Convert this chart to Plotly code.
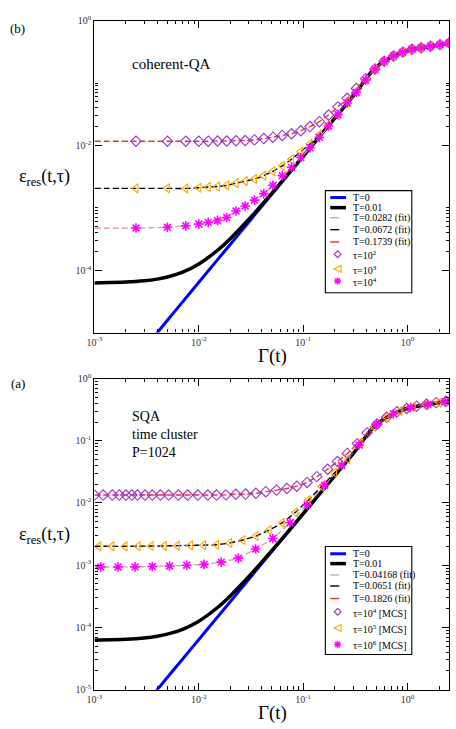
import plotly.graph_objects as go

W, H = 456, 729
FONT = "Liberation Serif"

# ---------------- data ----------------
# exact curves (same in both panels)
blue_gamma = [0.0035, 0.004, 0.005, 0.007, 0.01, 0.015, 0.02, 0.03, 0.05, 0.07, 0.1, 0.15, 0.2,
              0.238, 0.28, 0.316, 0.35, 0.391, 0.43, 0.474, 0.53, 0.59, 0.65, 0.721, 0.8, 0.897,
              1.0, 1.107, 1.355, 1.683, 2.046, 2.5]
blue_eres = [7.7e-6, 1.0e-5, 1.58e-5, 3.11e-5, 6.4e-5, 1.45e-4, 2.59e-4, 5.89e-4, 1.65e-3, 3.26e-3,
             6.70e-3, 0.0152, 0.0272, 0.0387, 0.0536, 0.0692, 0.087, 0.112, 0.138, 0.166, 0.195,
             0.221, 0.244, 0.268, 0.290, 0.314, 0.333, 0.348, 0.369, 0.391, 0.414, 0.439]

black_gamma = [0.001, 0.002, 0.003, 0.004, 0.005, 0.007, 0.01, 0.015, 0.02, 0.03, 0.05, 0.07, 0.1,
               0.15, 0.2, 0.238, 0.28, 0.316, 0.35, 0.391, 0.43, 0.474, 0.53, 0.59, 0.65, 0.721,
               0.8, 0.897, 1.0, 1.107, 1.355, 1.683, 2.046, 2.5]
black_eres = [6.26e-5, 6.45e-5, 6.76e-5, 7.2e-5, 7.78e-5, 9.31e-5, 1.26e-4, 2.07e-4, 3.21e-4,
              6.51e-4, 1.71e-3, 3.32e-3, 6.76e-3, 0.0153, 0.0273, 0.0387, 0.0536, 0.0692, 0.087,
              0.112, 0.138, 0.166, 0.195, 0.221, 0.244, 0.268, 0.290, 0.314, 0.333, 0.348, 0.369,
              0.391, 0.414, 0.439]

# panel (b): coherent-QA
top_gamma = [0.0025, 0.005, 0.0075, 0.01, 0.0123, 0.0151, 0.0185, 0.0227, 0.0278, 0.0341, 0.0419,
             0.0513, 0.063, 0.0773, 0.0948, 0.116, 0.143, 0.175, 0.215, 0.264, 0.323, 0.397,
             0.487, 0.597, 0.733, 0.899, 1.10, 1.35, 1.66, 2.04, 2.5]
top_tau1e2 = [0.0117, 0.0117, 0.0117, 0.0117, 0.0117, 0.0118, 0.0118, 0.0119, 0.0120, 0.0123,
              0.0129, 0.0136, 0.0145, 0.0154, 0.0172, 0.0201, 0.0241, 0.0308, 0.0416, 0.057,
              0.0819, 0.118, 0.169, 0.224, 0.272, 0.314, 0.348, 0.368, 0.391, 0.414, 0.439]
top_tau1e3 = [0.00205, 0.00205, 0.00205, 0.0021, 0.00216, 0.0022, 0.00229, 0.00249, 0.00268,
              0.0029, 0.00329, 0.00386, 0.00472, 0.00602, 0.00796, 0.0106, 0.0149, 0.0214,
              0.0308, 0.0493, 0.0722, 0.112, 0.166, 0.224, 0.272, 0.314, 0.348, 0.368, 0.391,
              0.414, 0.439]
top_tau1e4 = [4.75e-4, 4.88e-4, 5.17e-4, 5.5e-4, 5.85e-4, 6.29e-4, 7.01e-4, 8.91e-4, 1.07e-3,
              1.33e-3, 1.69e-3, 2.29e-3, 3.29e-3, 4.46e-3, 6.4e-3, 9.2e-3, 0.0135, 0.0205,
              0.0312, 0.048, 0.0715, 0.112, 0.166, 0.224, 0.272, 0.314, 0.348, 0.368, 0.391,
              0.414, 0.439]
top_fit_start = 0.001
top_fit_plateaus = [4.7e-4, 0.00205, 0.0117]   # T=0.0282, 0.0672, 0.1739

# panel (a): SQA
bot_d_gamma = [0.001, 0.00121, 0.00148, 0.00173, 0.002, 0.00228, 0.00258, 0.00305, 0.00358,
               0.00428, 0.00513, 0.00636, 0.00781, 0.00978, 0.0122, 0.0148, 0.0182, 0.0226,
               0.028, 0.0352, 0.0438, 0.0554, 0.0698, 0.0868, 0.109, 0.135, 0.171, 0.213,
               0.265, 0.33, 0.41, 0.51, 0.63, 0.79, 0.98, 1.22, 1.51, 1.88, 2.33]
bot_tau1e4 = [0.0134, 0.0134, 0.0134, 0.0134, 0.0134, 0.0134, 0.0134, 0.0134, 0.0134, 0.0134,
              0.0134, 0.0134, 0.0134, 0.0134, 0.0134, 0.0134, 0.0135, 0.0138, 0.0139, 0.0143,
              0.0152, 0.0161, 0.0171, 0.0186, 0.0214, 0.0265, 0.0348, 0.0465, 0.0626, 0.090,
              0.134, 0.186, 0.238, 0.292, 0.33, 0.36, 0.385, 0.41, 0.432]
bot_t_gamma = [0.0011, 0.00147, 0.00196, 0.00262, 0.00349, 0.00467, 0.00622, 0.00832, 0.0111,
               0.0148, 0.0198, 0.0264, 0.0352, 0.0471, 0.0628, 0.0839, 0.112, 0.150, 0.200,
               0.267, 0.356, 0.475, 0.634, 0.847, 1.13, 1.51, 2.01]
bot_tau1e5 = [0.00201, 0.00201, 0.00201, 0.00202, 0.00203, 0.00204, 0.00206, 0.00208, 0.0021,
              0.00213, 0.00228, 0.00254, 0.00294, 0.00366, 0.0048, 0.00703, 0.0111, 0.0184,
              0.0306, 0.0506, 0.091, 0.167, 0.238, 0.302, 0.352, 0.381, 0.411]
bot_s_gamma = [0.00115, 0.00168, 0.00245, 0.00358, 0.00524, 0.00766, 0.0112, 0.0164, 0.0239,
               0.035, 0.0512, 0.0748, 0.109, 0.160, 0.234, 0.342, 0.500, 0.731, 1.07, 1.56, 2.29]
bot_tau1e6 = [9.37e-4, 9.37e-4, 9.4e-4, 9.5e-4, 9.7e-4, 1.0e-3, 1.03e-3, 1.12e-3, 1.30e-3,
              1.82e-3, 2.69e-3, 4.8e-3, 9.33e-3, 0.0193, 0.040, 0.085, 0.180, 0.272, 0.343,
              0.385, 0.425]
bot_fit_start = 0.001
bot_fit_plateaus = [9.37e-4, 0.00201, 0.0134]   # T=0.04168, 0.0651, 0.1826

# tick labels
x_tickvals = [1e-3, 1e-2, 1e-1, 1.0]
x_ticktext = ["10<sup>-3</sup>", "10<sup>-2</sup>", "10<sup>-1</sup>", "10<sup>0</sup>"]
top_y_tickvals = [1.0, 1e-2, 1e-4]
top_y_ticktext = ["10<sup>0</sup>", "10<sup>-2</sup>", "10<sup>-4</sup>"]
bot_y_tickvals = [1.0, 1e-1, 1e-2, 1e-3, 1e-4, 1e-5]
bot_y_ticktext = ["10<sup>0</sup>", "10<sup>-1</sup>", "10<sup>-2</sup>", "10<sup>-3</sup>",
                  "10<sup>-4</sup>", "10<sup>-5</sup>"]

top_legend = ["T=0", "T=0.01", "T=0.0282 (fit)", "T=0.0672 (fit)", "T=0.1739 (fit)",
              "τ=10<sup>2</sup>", "τ=10<sup>3</sup>", "τ=10<sup>4</sup>"]
bot_legend = ["T=0", "T=0.01", "T=0.04168 (fit)", "T=0.0651 (fit)", "T=0.1826 (fit)",
              "τ=10<sup>4</sup> [MCS]", "τ=10<sup>5</sup> [MCS]", "τ=10<sup>6</sup> [MCS]"]

# ---------------- styles ----------------
C_BLUE, C_BLACK = "#0000ff", "#000000"
C_FIT = ["#dba3a3", "#000000", "#f03030"]
C_DIA, C_TRI, C_STAR = "#9932cc", "#ffa500", "#ff00ff"


def px_x(p):
    return p / W


def px_y(p):
    return 1 - p / H


fig = go.Figure()


def add_panel(xa, ya, fit_start, plateaus, series):
    # series: list of (gamma, values, symbol, color), in fit-colour order
    fig.add_trace(go.Scatter(x=blue_gamma, y=blue_eres, mode="lines", xaxis=xa, yaxis=ya,
                             line=dict(color=C_BLUE, width=3, shape="spline", smoothing=0.6),
                             showlegend=False, hoverinfo="skip"))
    fig.add_trace(go.Scatter(x=black_gamma, y=black_eres, mode="lines", xaxis=xa, yaxis=ya,
                             line=dict(color=C_BLACK, width=3.5, shape="spline", smoothing=0.6),
                             showlegend=False, hoverinfo="skip"))
    for (g, v, sym, col), pl, fc in zip(series, plateaus, C_FIT):
        fx = [fit_start] + list(g) if g[0] > fit_start else list(g)
        fy = [pl] + list(v) if g[0] > fit_start else list(v)
        fig.add_trace(go.Scatter(x=fx, y=fy, mode="lines", xaxis=xa, yaxis=ya,
                                 line=dict(color=fc, width=1.4, dash="6px,3px", shape="spline",
                                           smoothing=0.5),
                                 showlegend=False, hoverinfo="skip"))
    for g, v, sym, col in series[::-1]:
        lw = 1.6 if sym.startswith("asterisk") else 1.1
        fig.add_trace(go.Scatter(x=g, y=v, mode="markers", xaxis=xa, yaxis=ya,
                                 marker=dict(symbol=sym, size=8, color=col,
                                             line=dict(color=col, width=lw)),
                                 showlegend=False, hoverinfo="skip"))


add_panel("x", "y", top_fit_start, top_fit_plateaus,
          [(top_gamma, top_tau1e4, "asterisk-open", C_STAR),
           (top_gamma, top_tau1e3, "triangle-left-open", C_TRI),
           (top_gamma, top_tau1e2, "diamond-open", C_DIA)])
add_panel("x2", "y2", bot_fit_start, bot_fit_plateaus,
          [(bot_s_gamma, bot_tau1e6, "asterisk-open", C_STAR),
           (bot_t_gamma, bot_tau1e5, "triangle-left-open", C_TRI),
           (bot_d_gamma, bot_tau1e4, "diamond-open", C_DIA)])

x_minor = [m * 10.0 ** e for e in (-3, -2, -1) for m in range(2, 10)] + [2.0]
top_y_minor = [m * 1e-2 for m in range(2, 11)] + [m * 1e-4 for m in range(2, 11)]
bot_y_minor = [m * 10.0 ** e for e in (-5, -4, -3, -2, -1) for m in range(2, 10)]

XD = [88 / W, 449 / W]
axis_common = dict(type="log", showline=True, linecolor="black", linewidth=1.2, mirror="ticks",
                   ticks="inside", ticklen=7, tickwidth=1.1, tickcolor="black", showgrid=False,
                   zeroline=False, tickfont=dict(family=FONT, size=10, color="#333"))

fig.update_layout(
    width=W, height=H, autosize=False, margin=dict(l=0, r=0, t=0, b=0),
    paper_bgcolor="white", plot_bgcolor="white", showlegend=False,
    xaxis=dict(domain=XD, anchor="y", range=[-3, 0.398], tickvals=x_tickvals, ticktext=x_ticktext,
               minor=dict(ticks="inside", ticklen=3.5, tickvals=x_minor, tickcolor="black"),
               **axis_common),
    yaxis=dict(domain=[1 - 331.5 / H, 1 - 14 / H], anchor="x", range=[-5, 0],
               tickvals=top_y_tickvals, ticktext=top_y_ticktext,
               minor=dict(ticks="inside", ticklen=3.5, tickvals=top_y_minor, tickcolor="black"),
               **axis_common),
    xaxis2=dict(domain=XD, anchor="y2", range=[-3, 0.398], tickvals=x_tickvals,
                ticktext=x_ticktext,
                minor=dict(ticks="inside", ticklen=3.5, tickvals=x_minor, tickcolor="black"),
                **axis_common),
    yaxis2=dict(domain=[1 - 695 / H, 1 - 378.3 / H], anchor="x2", range=[-5, 0],
                tickvals=bot_y_tickvals, ticktext=bot_y_ticktext,
                minor=dict(ticks="inside", ticklen=3.5, tickvals=bot_y_minor, tickcolor="black"),
                **axis_common),
)

ann = []


def text(x, y, s, size, xanchor="center", yanchor="middle", align="center"):
    ann.append(dict(x=px_x(x), y=px_y(y), xref="paper", yref="paper", text=s, showarrow=False,
                    xanchor=xanchor, yanchor=yanchor, align=align,
                    font=dict(family=FONT, size=size, color="black")))


# axis titles / panel labels / annotations
for dy in (0, 364):
    text(37, 174 + dy, "ε<sub>res</sub>(t,τ)", 18)
    text(269, 355 + dy, "Γ(t)", 19)
text(10, 22, "(b)", 13)
text(10, 383, "(a)", 13)
text(124, 58, "coherent-QA", 15, xanchor="left")
text(124, 435, "SQA<br>time cluster<br>P=1024", 14, xanchor="left", align="left")

shapes = []


def legend(box, rows, labels):
    x0, y0, x1, y1 = box
    shapes.append(dict(type="rect", xref="paper", yref="paper", x0=px_x(x0), x1=px_x(x1),
                       y0=px_y(y1), y1=px_y(y0), line=dict(color="black", width=1.1),
                       fillcolor="white", layer="above"))
    styles = [(C_BLUE, 3, "solid"), (C_BLACK, 3.5, "solid"), (C_FIT[0], 1.4, "dash"),
              (C_FIT[1], 1.4, "dash"), (C_FIT[2], 1.4, "dash")]
    for (col, w, d), ry in zip(styles, rows[:5]):
        shapes.append(dict(type="line", xref="paper", yref="paper", x0=px_x(328), x1=px_x(344),
                           y0=px_y(ry), y1=px_y(ry), line=dict(color=col, width=w, dash=d)))
    cx, r = 335.5, 3.5
    # diamond
    cy = rows[5] - 1
    shapes.append(dict(type="path", xref="paper", yref="paper",
                       path=f"M {px_x(cx)},{px_y(cy - r)} L {px_x(cx + r)},{px_y(cy)} "
                            f"L {px_x(cx)},{px_y(cy + r)} L {px_x(cx - r)},{px_y(cy)} Z",
                       line=dict(color=C_DIA, width=1.1)))
    # triangle-left
    cy = rows[6] - 1
    shapes.append(dict(type="path", xref="paper", yref="paper",
                       path=f"M {px_x(cx - r)},{px_y(cy)} L {px_x(cx + r)},{px_y(cy - r)} "
                            f"L {px_x(cx + r)},{px_y(cy + r)} Z",
                       line=dict(color=C_TRI, width=1.1)))
    # asterisk
    cy = rows[7] - 1
    d = r * 0.72
    for ax0, ay0, ax1, ay1 in [(-r, 0, r, 0), (0, -r, 0, r), (-d, -d, d, d), (-d, d, d, -d)]:
        shapes.append(dict(type="line", xref="paper", yref="paper",
                           x0=px_x(cx + ax0), y0=px_y(cy + ay0), x1=px_x(cx + ax1),
                           y1=px_y(cy + ay1), line=dict(color=C_STAR, width=1.6)))
    for lab, ry in zip(labels, rows):
        text(349.5, ry, lab, 10, xanchor="left")


legend((323, 187, 411, 291), [194, 204.3, 214.5, 226.7, 239.3, 252.7, 267.7, 280], top_legend)
legend((323, 549.3, 411, 659.3), [556.7, 566.7, 578.3, 589.5, 602.3, 616.7, 633.3, 650],
       bot_legend)

fig.update_layout(annotations=ann, shapes=shapes)
fig.write_html("out.html")
